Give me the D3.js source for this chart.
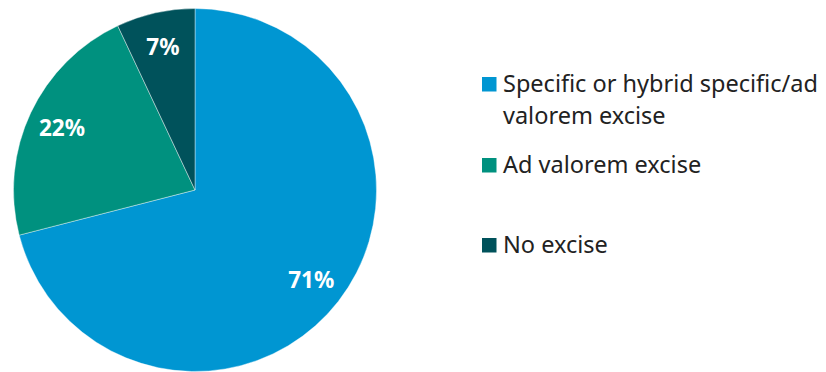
<!DOCTYPE html>
<html><head><meta charset="utf-8">
<script src="https://cdn.jsdelivr.net/npm/d3@7"></script>
<style>body{margin:0;background:#fff}svg{display:block}</style>
</head><body>
<svg id="c" width="826" height="372"></svg>
<script>
const categories = ["Specific or hybrid specific/ad valorem excise", "Ad valorem excise", "No excise"];
const legendLines = [["Specific or hybrid specific/ad", "valorem excise"], ["Ad valorem excise"], ["No excise"]];
const values = [71, 22, 7];
const colors = ["#0096D2", "#00917F", "#00525B"];

const svg = d3.select("#c");
const cx = 195, cy = 190, R = 181.5;
const pie = d3.pie().sort(null).value(d => d);
const arcs = pie(values);
const arc = d3.arc().innerRadius(0).outerRadius(R);
const labelArc = d3.arc().innerRadius(147).outerRadius(147);
const color = d3.scaleOrdinal().domain(categories).range(colors);

const g = svg.append("g").attr("transform", `translate(${cx},${cy})`);
g.selectAll("path").data(arcs).join("path")
  .attr("d", arc)
  .attr("fill", (d, i) => color(categories[i]))
  .attr("stroke", "#fff").attr("stroke-width", 0.4);
g.selectAll("text").data(arcs).join("text")
  .attr("transform", d => `translate(${labelArc.centroid(d)})`)
  .attr("text-anchor", "middle").attr("dy", "0.36em")
  .attr("fill", "#fff").attr("font-family", "'Noto Sans', 'Open Sans', sans-serif")
  .attr("font-weight", "bold").attr("font-size", 22.5)
  .text(d => d.data + "%");

const legendY = [92, 173, 253];
const lg = svg.append("g");
categories.forEach((c, i) => {
  lg.append("rect").attr("x", 482).attr("y", legendY[i] - 15).attr("width", 14.5).attr("height", 14.5)
    .attr("fill", color(c));
  const t = lg.append("text").attr("x", 503).attr("y", legendY[i])
    .attr("font-family", "'Noto Sans', 'Open Sans', sans-serif").attr("font-size", 23.5)
    .attr("fill", "#222");
  legendLines[i].forEach((l, j) => {
    t.append("tspan").attr("x", 503).attr("y", legendY[i] + j * 32).text(l);
  });
});
</script>
</body></html>
